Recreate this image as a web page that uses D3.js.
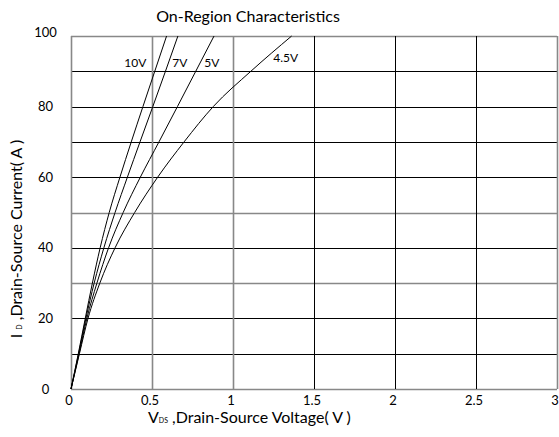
<!DOCTYPE html>
<html>
<head>
<meta charset="utf-8">
<script src="https://cdn.jsdelivr.net/npm/d3@7"></script>
<style>
  body { margin: 0; background: #fff; }
  svg { display: block; font-family: Lato, "Open Sans", sans-serif; }
</style>
</head>
<body>
<svg id="chart"></svg>
<script>
const width = 559;
const height = 437;

// drain current steps (A) and the V_DS
const currents = [0, 10, 20, 30, 40, 50, 60, 70, 80, 90, 100];
const vds10 = [0, 0.045, 0.088, 0.132, 0.180, 0.236, 0.302, 0.372, 0.444, 0.517, 0.590];
const vds7 = [0, 0.047, 0.092, 0.143, 0.203, 0.272, 0.348, 0.426, 0.505, 0.583, 0.660];
const vds5 = [0, 0.050, 0.098, 0.160, 0.232, 0.322, 0.428, 0.543, 0.657, 0.770, 0.883];
const vds45 = [0, 0.052, 0.105, 0.178, 0.272, 0.393, 0.535, 0.698, 0.878, 1.110, 1.362];

const seriesNames = ["10V", "7V", "5V", "4.5V"];
const xTicks = [0, 0.5, 1, 1.5, 2, 2.5, 3];
const yGrid = [0, 10, 20, 30, 40, 50, 60, 70, 80, 90, 100];
const yTicks = [0, 20, 40, 60, 80, 100];

const svg = d3.select("#chart")
    .attr("width", width)
    .attr("height", height);

svg.append("rect")
    .attr("width", width)
    .attr("height", height)
    .attr("fill", "#fff");

const x = d3.scaleLinear().domain([0, 3]).range([71, 557]);
const y = d3.scaleLinear().domain([0, 100]).range([389, 36]);

// some grid lines come out softer grey in the original
const softX = new Set([0, 0.5, 1, 3]);
const softY = new Set([0, 30, 50, 100]);

const grid = svg.append("g");

grid.selectAll("line.h")
    .data(yGrid)
    .enter()
    .append("line")
    .attr("class", "h")
    .attr("x1", x(0))
    .attr("x2", x(3))
    .attr("y1", d => Math.round(y(d)) + 0.5)
    .attr("y2", d => Math.round(y(d)) + 0.5)
    .attr("stroke", d => softY.has(d) ? "#888" : "#000")
    .attr("stroke-width", d => softY.has(d) ? 1.6 : 1);

grid.selectAll("line.v")
    .data(xTicks)
    .enter()
    .append("line")
    .attr("class", "v")
    .attr("x1", d => Math.round(x(d)) + 0.5)
    .attr("x2", d => Math.round(x(d)) + 0.5)
    .attr("y1", y(0))
    .attr("y2", y(100))
    .attr("stroke", d => softX.has(d) ? "#888" : "#000")
    .attr("stroke-width", d => softX.has(d) ? 1.6 : 1);

// tick labels
svg.append("g")
    .selectAll("text")
    .data(yTicks)
    .enter()
    .append("text")
    .attr("x", 45.5)
    .attr("y", d => y(d) + (d === 100 ? 0.5 : 4.5))
    .attr("text-anchor", "middle")
    .style("font-size", "13px")
    .text(d => d);

svg.append("g")
    .selectAll("text")
    .data(xTicks)
    .enter()
    .append("text")
    .attr("x", d => x(d) - 2)
    .attr("y", 405)
    .attr("text-anchor", "middle")
    .style("font-size", "13px")
    .text(d => d);

// curves
const curves = [vds10, vds7, vds5, vds45].map(vs =>
    vs.map((v, i) => [v, currents[i]])
);

const line = d3.line()
    .x(d => x(d[0]))
    .y(d => y(d[1]))
    .curve(d3.curveMonotoneX);

svg.append("g")
    .selectAll("path")
    .data(curves)
    .enter()
    .append("path")
    .attr("d", line)
    .attr("fill", "none")
    .attr("stroke", "#000")
    .attr("stroke-width", 1);

// curve labels, placed in data units
const labelAt = [[0.329, 91.3], [0.625, 91.3], [0.823, 91.3], [1.249, 92.7]];

svg.append("g")
    .selectAll("text")
    .data(seriesNames)
    .enter()
    .append("text")
    .attr("x", (d, i) => x(labelAt[i][0]))
    .attr("y", (d, i) => y(labelAt[i][1]))
    .style("font-size", "12px")
    .text(d => d);

// title
svg.append("text")
    .attr("x", 248)
    .attr("y", 21.5)
    .attr("text-anchor", "middle")
    .style("font-size", "16px")
    .text("On-Region Characteristics");

// x axis title
const xt = svg.append("text")
    .attr("x", 148)
    .attr("y", 423)
    .style("font-size", "16px");
xt.append("tspan").text("V");
xt.append("tspan").style("font-size", "7px").text("DS");
xt.append("tspan").text(" ,Drain-Source Voltage( V )");

// y axis title
const yt = svg.append("text")
    .attr("transform", "translate(21.5,239) rotate(-90)")
    .attr("text-anchor", "middle")
    .style("font-size", "16px");
yt.append("tspan").text("I ");
yt.append("tspan").style("font-size", "7px").text("D");
yt.append("tspan").text(" ,Drain-Source Current( A )");
</script>
</body>
</html>
